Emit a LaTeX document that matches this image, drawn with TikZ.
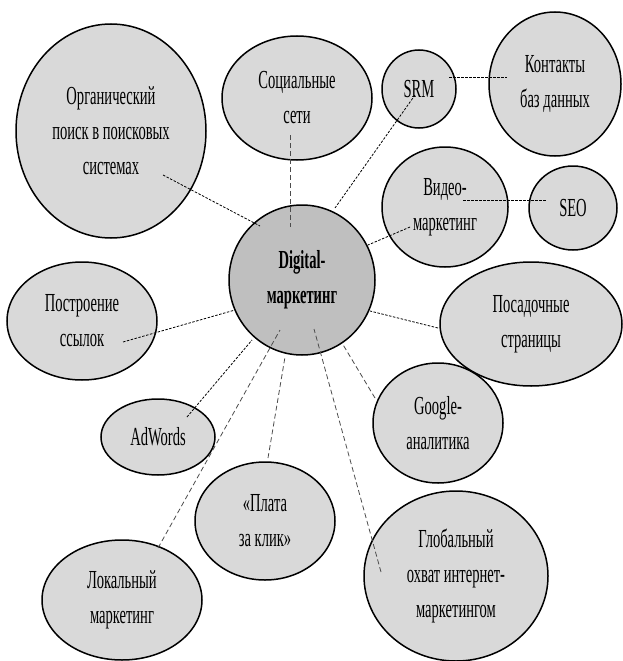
\documentclass[tikz,border=0pt]{standalone}
\usepackage{fontspec}
\setmainfont{Liberation Serif}[FakeStretch=0.56]
\usetikzlibrary{shapes.geometric}

\definecolor{bubblegray}{RGB}{217,217,217}
\definecolor{hubgray}{RGB}{191,191,191}

\tikzset{
		bubble/.style={
			ellipse,draw,line width=1.5pt,fill=bubblegray,
			inner sep=0pt,align=center,
			font=\fontsize{26}{35}\selectfont
		},
		hub/.style={bubble,fill=hubgray,font=\fontsize{26}{35}\selectfont\bfseries},
		tie/.style={line width=0.8pt,dash pattern=on 2.5pt off 1.5pt},
		tielong/.style={line width=0.8pt,gray!60!black,dash pattern=on 5pt off 3pt}
	}

\begin{document}
\begin{tikzpicture}[x=1pt,y=-1pt]
				\useasboundingbox (0,0) rectangle (622,661);
				% bubbles
				\node[bubble,minimum width=190,minimum height=214] (org) at (111,131) {Органический\\поиск в поисковых\\системах};
				\node[bubble,minimum width=150,minimum height=124] (soc) at (297,98) {Социальные\\сети};
				\node[bubble,minimum width=74,minimum height=78] (srm) at (419,89) {SRM};
				\node[bubble,minimum width=132,minimum height=144] (cont) at (555,84) {Контакты\\баз данных};
				\node[bubble,minimum width=126,minimum height=120] (vid) at (445,207) {Видео-\\маркетинг};
				\node[bubble,minimum width=88,minimum height=84] (seo) at (573,208) {SEO};
				\node[hub,minimum width=146,minimum height=150] (dig) at (302,280) {Digital-\\маркетинг};
				\node[bubble,minimum width=182,minimum height=124] (land) at (531,324) {Посадочные\\страницы};
				\node[bubble,minimum width=150,minimum height=118] (links) at (82,321) {Построение\\ссылок};
				\node[bubble,minimum width=114,minimum height=76] (adw) at (158,437) {AdWords};
				\node[bubble,minimum width=140,minimum height=118] (ppc) at (265,521) {«Плата\\за клик»};
				\node[bubble,minimum width=160,minimum height=120] (loc) at (122,600) {Локальный\\маркетинг};
				\node[bubble,minimum width=130,minimum height=120] (ga) at (438,423) {Google-\\аналитика};
				\node[bubble,minimum width=184,minimum height=170] (glob) at (456,576) {Глобальный\\охват интернет-\\маркетингом};
				% dashed ties
				\draw[tie] ([shift={(52,44)}]org.center) -- ([shift={(-42,-54)}]dig.center);
				\draw[tielong] ([shift={(-7,37)}]soc.center) -- ([shift={(-12,-53)}]dig.center);
				\draw[tie] ([shift={(-4,6)}]srm.center) -- ([shift={(33,-72)}]dig.center);
				\draw[tie] ([shift={(30,-12)}]srm.center) -- ([shift={(-48,-7)}]cont.center);
				\draw[tie] ([shift={(18,-7)}]vid.center) -- ([shift={(-27,-8)}]seo.center);
				\draw[tie] ([shift={(-35,20)}]vid.center) -- ([shift={(66,-35)}]dig.center);
				\draw[tie] ([shift={(-93,4)}]land.center) -- ([shift={(68,31)}]dig.center);
				\draw[tie] ([shift={(41,21)}]links.center) -- ([shift={(-67,30)}]dig.center);
				\draw[tie] ([shift={(29,-20)}]adw.center) -- ([shift={(-50,60)}]dig.center);
				\draw[tielong] ([shift={(36,-52)}]loc.center) -- ([shift={(-22,50)}]dig.center);
				\draw[tielong] ([shift={(3,-63)}]ppc.center) -- ([shift={(-17,77)}]dig.center);
				\draw[tielong] ([shift={(-63,-25)}]ga.center) -- ([shift={(40,63)}]dig.center);
				\draw[tielong] ([shift={(-75,-4)}]glob.center) -- ([shift={(12,49)}]dig.center);
			\end{tikzpicture}
\end{document}
